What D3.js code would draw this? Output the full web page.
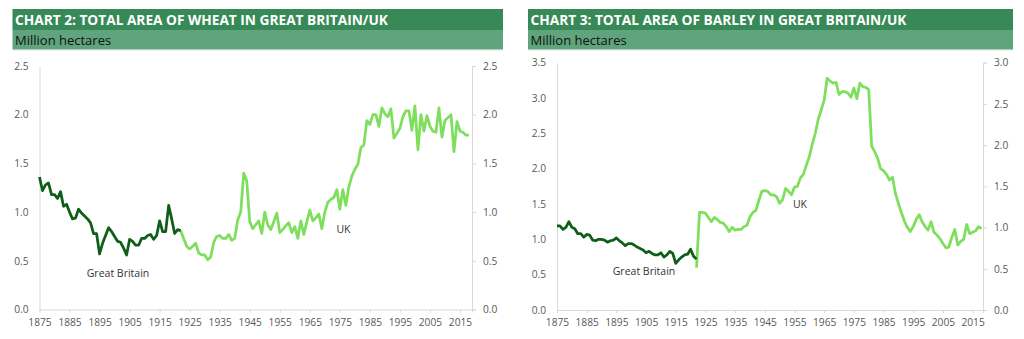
<!DOCTYPE html>
<html><head><meta charset="utf-8">
<script src="https://cdn.jsdelivr.net/npm/d3@7/dist/d3.min.js"></script>
<style>
html,body{margin:0;padding:0;background:#fff;}
svg{display:block;font-family:"Open Sans",sans-serif;}
</style></head>
<body>
<svg id="c" width="1024" height="339"></svg>
<script>
// ---- data ----
const xTicks = [1875,1885,1895,1905,1915,1925,1935,1945,1955,1965,1975,1985,1995,2005,2015];
const wheatTicks = [0,0.5,1.0,1.5,2.0,2.5];
const barleyLeftTicks = [0,0.5,1.0,1.5,2.0,2.5,3.0,3.5];
const barleyRightTicks = [0,0.5,1.0,1.5,2.0,2.5,3.0];

const gbWheatStart = 1875;
const gbWheat = [1.36,1.22,1.28,1.30,1.18,1.18,1.14,1.21,1.06,1.08,1.00,0.93,0.94,1.03,0.99,0.96,0.93,0.89,0.78,0.78,
0.57,0.68,0.76,0.84,0.80,0.75,0.70,0.69,0.63,0.56,0.72,0.70,0.66,0.66,0.73,0.73,0.76,0.77,0.72,0.76,
0.91,0.80,0.80,1.07,0.93,0.78,0.82,0.81];

const ukWheatStart = 1922;
const ukWheat = [0.81,0.73,0.65,0.62,0.65,0.68,0.58,0.56,0.56,0.51,0.54,0.69,0.75,0.76,0.73,0.73,0.77,0.71,0.73,0.92,
1.00,1.40,1.32,0.90,0.83,0.87,0.91,0.78,1.00,0.87,0.82,0.90,0.99,0.79,0.82,0.86,0.89,0.79,0.85,0.73,
0.91,0.77,0.90,1.02,0.91,0.94,0.98,0.83,1.00,1.10,1.13,1.15,1.23,1.03,1.23,1.07,1.26,1.37,1.44,1.49,
1.66,1.69,1.94,1.90,2.00,2.00,1.88,2.07,2.01,1.98,2.06,1.76,1.81,1.86,1.98,2.04,2.04,1.84,2.09,1.64,
2.00,1.83,1.99,1.88,1.83,1.82,2.07,1.77,1.94,1.97,2.00,1.62,1.93,1.83,1.82,1.79,1.79];

const gbBarleyStart = 1875;
const gbBarley = [1.19,1.19,1.14,1.17,1.25,1.17,1.15,1.08,1.08,1.03,1.07,1.06,0.99,0.98,1.00,1.00,0.99,0.96,0.98,0.99,
1.02,0.98,0.95,0.91,0.94,0.94,0.92,0.89,0.87,0.85,0.81,0.83,0.80,0.78,0.78,0.81,0.75,0.78,0.83,0.80,
0.66,0.71,0.75,0.78,0.79,0.86,0.76,0.72];

const ukBarleyStart = 1922;
const ukBarley = [0.60,1.38,1.38,1.37,1.31,1.25,1.31,1.28,1.24,1.23,1.18,1.11,1.17,1.13,1.14,1.14,1.18,1.20,1.32,1.38,
1.41,1.55,1.68,1.69,1.68,1.63,1.63,1.60,1.51,1.56,1.72,1.68,1.63,1.74,1.75,1.87,1.92,2.05,2.17,2.35,
2.50,2.70,2.83,2.97,3.28,3.24,3.21,3.22,3.05,3.09,3.09,3.07,3.01,3.14,2.99,3.21,3.16,3.15,3.12,2.32,
2.24,2.15,2.00,1.97,1.92,1.84,1.88,1.65,1.51,1.38,1.26,1.17,1.11,1.18,1.28,1.35,1.25,1.18,1.13,1.25,
1.10,1.06,1.01,0.94,0.88,0.89,1.03,1.14,0.92,0.97,1.00,1.21,1.08,1.10,1.12,1.18,1.15];

// ---- styles ----
const C = {
  band1:"#378a58", band2:"#5fa47c", dark:"#0e5e17", light:"#7ddf5c",
  axis:"#d9d9d9", text:"#595959"
};

const svg = d3.select("#c");

function toPts(start, vals){ return vals.map((v,i)=>({year:start+i, v})); }

function chart(o){
  const g = svg.append("g");
  // header bands
  g.append("rect").attr("x",o.bandX).attr("y",9).attr("width",o.bandW).attr("height",21).attr("fill",C.band1);
  g.append("rect").attr("x",o.bandX).attr("y",30).attr("width",o.bandW).attr("height",19.5).attr("fill",C.band2);
  g.append("text").attr("x",o.bandX+2.5).attr("y",25).attr("fill","#fff").attr("font-weight",700)
    .attr("font-size",13.7).text(o.title);
  g.append("text").attr("x",o.bandX+2.5).attr("y",45).attr("fill","#111").attr("font-size",13)
    .text("Million hectares");

  const x = d3.scaleLinear().domain(o.xDomain).range([o.left,o.right]);
  const yL = d3.scaleLinear().domain([0,o.yLMax]).range([o.bottom,o.top]);
  const yR = d3.scaleLinear().domain([0,o.yRMax]).range([o.bottom,o.top]);

  // x axis
  const xa = g.append("g").attr("transform",`translate(0,${o.bottom})`)
    .call(d3.axisBottom(x).tickValues(xTicks).tickFormat(d3.format("d")).tickSize(3).tickPadding(6));
  // left axis
  const la = g.append("g").attr("transform",`translate(${o.left},0)`)
    .call(d3.axisLeft(yL).tickValues(o.lTicks).tickFormat(d3.format(".1f")).tickSize(0).tickPadding(11));
  // right axis
  const ra = g.append("g").attr("transform",`translate(${o.right},0)`)
    .call(d3.axisRight(yR).tickValues(o.rTicks).tickFormat(d3.format(".1f")).tickSize(4).tickPadding(7));
  [xa,la,ra].forEach(a=>{
    a.select(".domain").attr("stroke",C.axis).attr("stroke-width",1);
    a.selectAll(".tick line").attr("stroke",C.axis);
    a.selectAll(".tick text").attr("fill",C.text).attr("font-size",10.2).attr("font-family","Open Sans");
  });
  // top faint border
  g.append("line").attr("x1",o.bandX).attr("x2",o.bandX+o.bandW).attr("y1",50.5).attr("y2",50.5)
    .attr("stroke","#f2f2f2");

  const line = (ys)=>d3.line().x(d=>x(d.year)).y(d=>ys(d.v));
  g.append("path").datum(toPts(o.ukStart,o.uk)).attr("d",line(yL)).attr("fill","none")
    .attr("stroke",C.light).attr("stroke-width",2.75).attr("stroke-linejoin","round");
  g.append("path").datum(toPts(o.gbStart,o.gb)).attr("d",line(yL)).attr("fill","none")
    .attr("stroke",C.dark).attr("stroke-width",2.75).attr("stroke-linejoin","round");

  g.append("text").attr("x",o.gbLab[0]).attr("y",o.gbLab[1]).attr("text-anchor","middle")
    .attr("font-size",10.5).attr("fill","#333").text("Great Britain");
  g.append("text").attr("x",o.ukLab[0]).attr("y",o.ukLab[1]).attr("text-anchor","middle")
    .attr("font-size",10.5).attr("fill","#333").text("UK");
}

chart({
  title:"CHART 2: TOTAL AREA OF WHEAT IN GREAT BRITAIN/UK",
  bandX:12.5, bandW:490.5,
  left:39.5, right:472, top:66, bottom:309.5, xDomain:[1875,2019],
  yLMax:2.5, yRMax:2.5, lTicks:wheatTicks, rTicks:wheatTicks,
  gb:gbWheat, gbStart:gbWheatStart, uk:ukWheat, ukStart:ukWheatStart,
  gbLab:[118,277], ukLab:[343.5,233]
});
chart({
  title:"CHART 3: TOTAL AREA OF BARLEY IN GREAT BRITAIN/UK",
  bandX:528, bandW:485,
  left:557, right:983, top:62.7, bottom:310, xDomain:[1875,2018.5],
  yLMax:3.5, yRMax:3.0, lTicks:barleyLeftTicks, rTicks:barleyRightTicks,
  gb:gbBarley, gbStart:gbBarleyStart, uk:ukBarley, ukStart:ukBarleyStart,
  gbLab:[644,275], ukLab:[800,208]
});
</script>
</body></html>
